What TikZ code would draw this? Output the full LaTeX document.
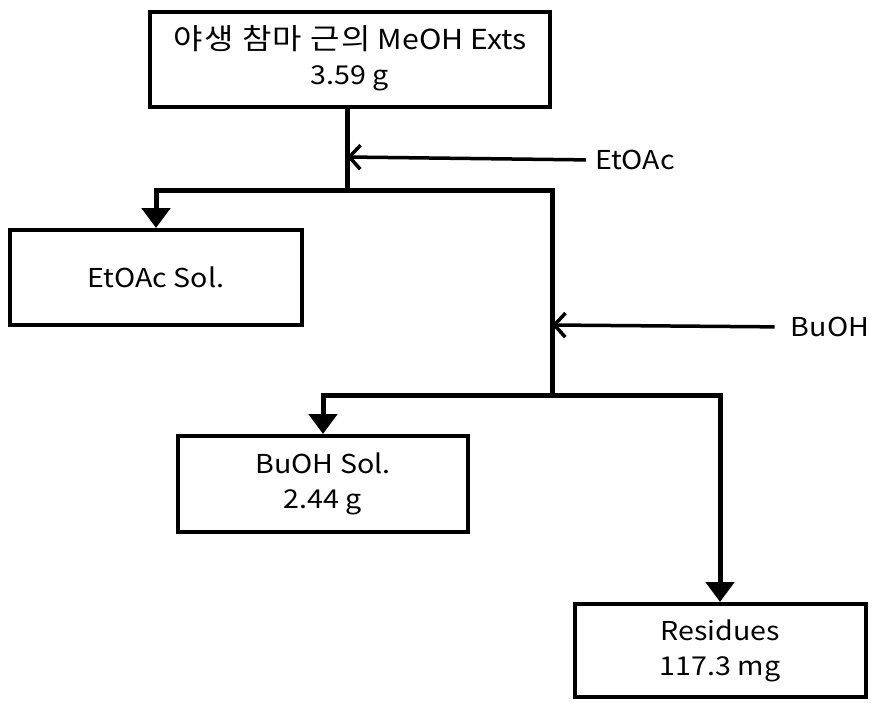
\documentclass[tikz,border=0pt]{standalone}
\usepackage{fontspec}
\setmainfont[FakeStretch=1.1]{Noto Sans CJK KR}
\usetikzlibrary{arrows.meta}
\begin{document}
\begin{tikzpicture}[x=1pt,y=-1pt,
  box/.style={draw,line width=4pt,align=center,inner sep=0pt,font=\fontsize{26}{35}\selectfont},
  lbl/.style={inner sep=0pt,font=\fontsize{26}{35}\selectfont},
  flow/.style={line width=5pt},
  down/.style={flow,-{Triangle[width=28pt,length=20pt]}},
  reag/.style={line width=3.5pt,-{Straight Barb[length=11pt,width=24pt]}}]
\fill[white] (0,0) rectangle (880,702);
\useasboundingbox (0,0) rectangle (880,702);
\node[box,minimum width=400pt,minimum height=95pt] (top) at (350,59.5) {\raisebox{-3pt}{\begin{tabular}{@{}c@{}}{\fontsize{29}{35}\selectfont\addfontfeature{LetterSpace=5}야생 참마 근의}\fontsize{27.5}{35}\selectfont{} MeOH Exts\\3.59 g\end{tabular}}};
\node[box,minimum width=292pt,minimum height=95pt] (et) at (156,277.5) {EtOAc Sol.};
\node[box,minimum width=290pt,minimum height=96pt] (bu) at (323,484) {BuOH Sol.\\2.44 g};
\node[box,minimum width=291pt,minimum height=93pt] (res) at (720,650.5) {Residues\\117.3 mg};
\node[lbl] (etl) at (635,160) {EtOAc};
\node[lbl] (bul) at (830,327) {BuOH};
\coordinate (j1) at (347,190);
\coordinate (j2) at (552,395);
\coordinate (e1) at (347,157);
\coordinate (b1) at (552,325);
\draw[flow] (j1 |- top.south) -- (j1);
\draw[down] (j1) -| (et.north);
\draw[flow] (j1) -| (j2);
\draw[down] (j2) -| (bu.north);
\draw[down] (j2) -| (res.north);
\draw[reag,shorten <=9pt] (etl.west) -- (e1);
\draw[reag,shorten <=16pt] (bul.west) -- (b1);
\end{tikzpicture}
\end{document}
